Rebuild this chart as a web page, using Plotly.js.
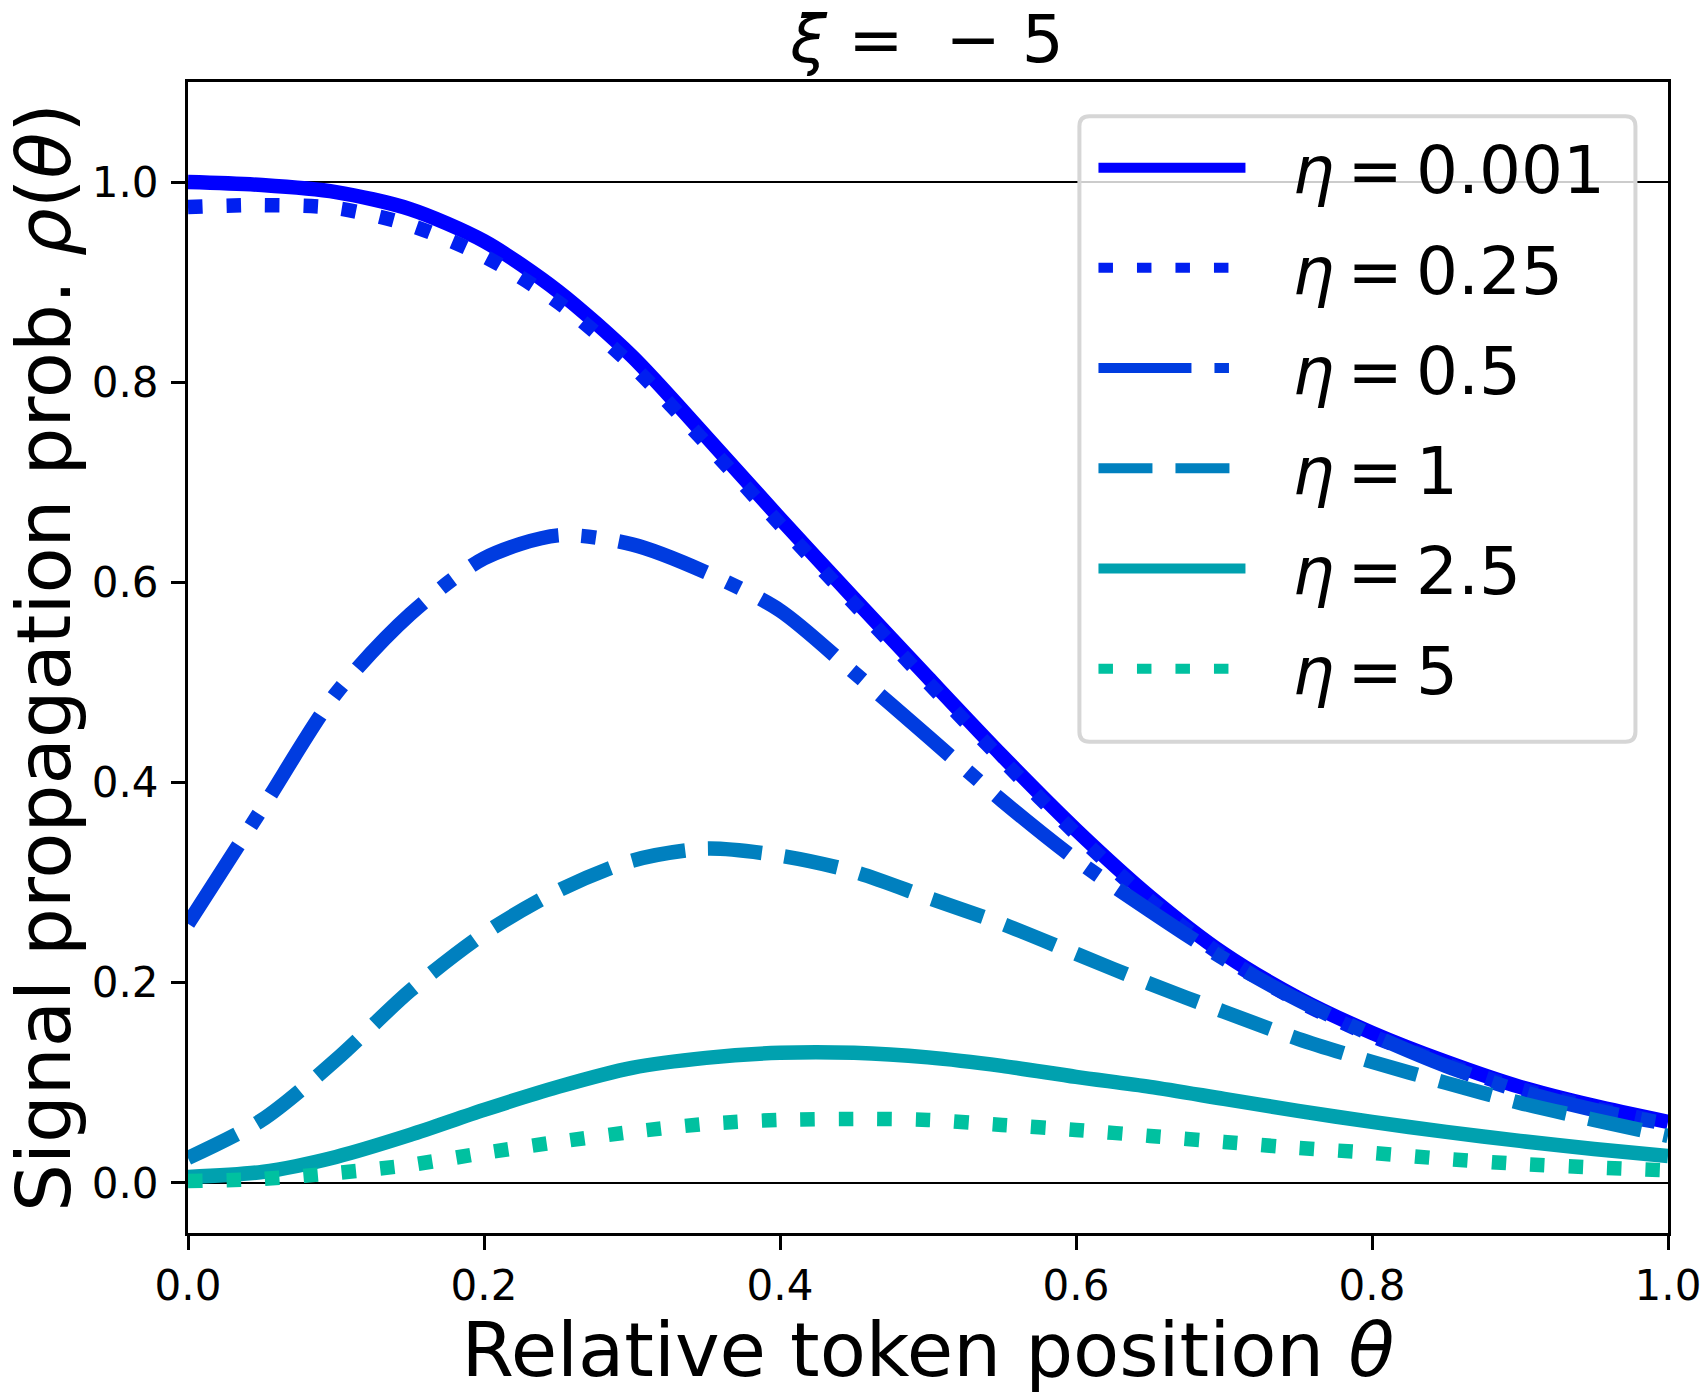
<!DOCTYPE html>
<html>
<head>
<meta charset="utf-8">
<script src="https://cdn.plot.ly/plotly-3.0.1.min.js"></script>
<style>html,body{margin:0;padding:0;background:#fff;}#chart{width:1700px;height:1394px;}</style>
</head>
<body>
<div id="chart"></div>
<script>
// Relative token position theta
const theta = [0.00,0.05,0.10,0.15,0.20,0.25,0.30,0.35,0.40,0.45,0.50,0.55,0.60,0.65,0.70,0.75,0.80,0.85,0.90,0.95,1.00];
// Signal propagation probability rho(theta) for each eta (xi = -5)
const rho_eta_0001 = [1.000,0.997,0.990,0.973,0.941,0.891,0.826,0.746,0.664,0.584,0.505,0.427,0.353,0.286,0.229,0.185,0.150,0.121,0.096,0.077,0.061];
const rho_eta_025  = [0.975,0.977,0.974,0.957,0.926,0.880,0.817,0.739,0.658,0.579,0.500,0.423,0.349,0.282,0.226,0.182,0.147,0.119,0.094,0.075,0.059];
const rho_eta_05   = [0.259,0.374,0.489,0.568,0.624,0.647,0.638,0.610,0.572,0.510,0.446,0.382,0.323,0.272,0.224,0.183,0.148,0.117,0.092,0.073,0.059];
const rho_eta_1    = [0.025,0.063,0.123,0.192,0.249,0.292,0.322,0.334,0.327,0.311,0.285,0.259,0.229,0.199,0.171,0.144,0.121,0.100,0.080,0.063,0.047];
const rho_eta_25   = [0.006,0.011,0.026,0.048,0.073,0.096,0.115,0.125,0.130,0.130,0.1255,0.117,0.106,0.096,0.084,0.072,0.061,0.051,0.042,0.034,0.027];
const rho_eta_5    = [0.002,0.004,0.010,0.018,0.030,0.041,0.051,0.059,0.063,0.064,0.063,0.058,0.053,0.047,0.041,0.035,0.030,0.024,0.019,0.0155,0.0125];

const TS = '\u2009'; // thin space, as in the math-text labels
const NB = '\u00A0';
const seriesLabels = ['0.001','0.25','0.5','1','2.5','5'].map(v => '<i>η</i>' + TS + '=' + TS + v);
const seriesData = [rho_eta_0001, rho_eta_025, rho_eta_05, rho_eta_1, rho_eta_25, rho_eta_5];
const seriesColors = ['#0000ff','#001ff0','#003ce0','#0080bf','#00a1af','#00c1a0'];
const seriesDash = ['solid','14.5px,24px','93px,23px,14.5px,23px','54px,23px','solid','14.5px,24px'];

const xTickVals = [0,0.2,0.4,0.6,0.8,1.0];
const xTickText = ['0.0','0.2','0.4','0.6','0.8','1.0'];
const yTickVals = [0,0.2,0.4,0.6,0.8,1.0];
const yTickText = ['0.0','0.2','0.4','0.6','0.8','1.0'];

const FONT = 'DejaVu Sans, Liberation Sans, sans-serif';

const traces = seriesData.map((d,i)=>({
  x: theta, y: d, type:'scatter', mode:'lines', name: NB+NB+seriesLabels[i],
  legendgroup: 'g'+i,
  line: {color: seriesColors[i], width: 14.5, dash: seriesDash[i], shape:'spline', smoothing:0.8},
  hoverinfo:'skip'
}));

// legend frame geometry (paper units)
const lx0=0.6023, lx1=0.978, ly0=0.4267, ly1=0.9702, rx=0.0068, ry=0.0087;
const legendPath = `M${lx0+rx},${ly1} L${lx1-rx},${ly1} Q${lx1},${ly1} ${lx1},${ly1-ry} L${lx1},${ly0+ry} Q${lx1},${ly0} ${lx1-rx},${ly0} L${lx0+rx},${ly0} Q${lx0},${ly0} ${lx0},${ly0+ry} L${lx0},${ly1-ry} Q${lx0},${ly1} ${lx0+rx},${ly1} Z`;

const layout = {
  width:1700, height:1394,
  margin:{l:188, r:32, t:82, b:161},
  paper_bgcolor:'#fff', plot_bgcolor:'#fff',
  font:{family:FONT, color:'#000'},
  showlegend:true,
  title:{text:'<i>ξ</i> =' + NB + NB + '− 5', font:{size:66, family:FONT, color:'#000'}, x:0.5453, xref:'container', xanchor:'center', y:1, yref:'container', yanchor:'top', pad:{t:16}},
  xaxis:{range:[0,1], tickvals:xTickVals, ticktext:xTickText, ticks:'outside', ticklen:14, tickwidth:3, tickcolor:'#000',
    showline:true, linewidth:3, linecolor:'#000', mirror:true, showgrid:false, zeroline:false,
    tickfont:{size:42, family:FONT}, automargin:false, ticklabeloverflow:'allow',
    title:{text:'Relative token position <i>θ</i>', font:{size:75.5, family:FONT}, standoff:12}},
  yaxis:{range:[-0.05,1.1], tickvals:yTickVals, ticktext:yTickText, ticks:'outside', ticklen:14, tickwidth:3, tickcolor:'#000',
    showline:true, linewidth:3, linecolor:'#000', mirror:true, showgrid:false, zeroline:false,
    tickfont:{size:42, family:FONT}, automargin:false, ticklabelstandoff:4, ticklabeloverflow:'allow',
    title:{text:'Signal propagation prob. <i>ρ</i>(<i>θ</i>)', font:{size:75.5, family:FONT}, standoff:29}},
  legend:{x:0.6118, y:0.9685, xanchor:'left', yanchor:'top', bgcolor:'rgba(0,0,0,0)', borderwidth:0,
    font:{size:66, family:FONT, color:'#000'}, itemwidth:147, tracegroupgap:11.4, traceorder:'grouped', itemclick:false},
  shapes:[
    {type:'line', xref:'paper', yref:'y', x0:0, x1:1, y0:1, y1:1, line:{color:'#000', width:2}, layer:'below'},
    {type:'line', xref:'paper', yref:'y', x0:0, x1:1, y0:0, y1:0, line:{color:'#000', width:2}, layer:'below'},
    {type:'path', xref:'paper', yref:'paper', path:legendPath, fillcolor:'rgba(255,255,255,0.8)', line:{color:'#d6d6d6', width:4}, layer:'above'}
  ]
};

Plotly.newPlot('chart', traces, layout, {staticPlot:true, displayModeBar:false});
</script>
</body>
</html>
